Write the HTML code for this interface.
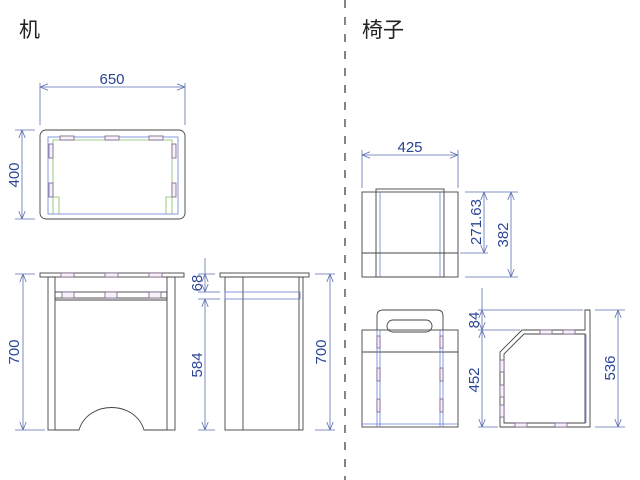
<!DOCTYPE html>
<html><head><meta charset="utf-8"><style>
html,body{margin:0;padding:0;background:#fff;width:640px;height:480px;overflow:hidden}
svg{display:block}
.d{stroke:#5a6fb0;stroke-width:0.8;fill:none}
.o{stroke:#444;stroke-width:0.9;fill:none}
.b{stroke:#6a7fd0;stroke-width:0.8;fill:none}
.g{stroke:#7fbf5f;stroke-width:0.8;fill:none}
.p{stroke:#7a5a8a;stroke-width:0.8;fill:#f6f2f8}
text.n{font-family:"Liberation Sans",sans-serif;font-size:15px;fill:#2a4594}
text.t{font-family:"Liberation Sans","Noto Sans CJK JP",sans-serif;font-size:21px;fill:#222}
</style></head><body>
<svg width="640" height="480" viewBox="0 0 640 480">
<defs>
<marker id="a" viewBox="0 0 10 10" refX="10" refY="5" markerWidth="8" markerHeight="8" orient="auto-start-reverse" markerUnits="userSpaceOnUse">
<path d="M0,1 L10,5 L0,9" fill="none" stroke="#5a6fb0" stroke-width="1"/></marker>
</defs>
<line x1="345" y1="0" x2="345" y2="480" stroke="#333" stroke-width="1.2" stroke-dasharray="8,9"/>
<text class="t" x="19" y="37">机</text>
<text class="t" x="362" y="37">椅子</text>

<!-- desk top view -->
<line class="d" x1="40" y1="83" x2="40" y2="125"/><line class="d" x1="185" y1="83" x2="185" y2="125"/>
<line class="d" x1="40" y1="87" x2="185" y2="87" marker-start="url(#a)" marker-end="url(#a)"/>
<text class="n" x="112" y="84" text-anchor="middle">650</text>
<line class="d" x1="15" y1="130" x2="35" y2="130"/><line class="d" x1="15" y1="219" x2="35" y2="219"/>
<line class="d" x1="22" y1="130" x2="22" y2="219" marker-start="url(#a)" marker-end="url(#a)"/>
<text class="n" transform="translate(19,175) rotate(-90)" text-anchor="middle">400</text>
<rect class="o" x="40" y="130" width="145" height="89" rx="6"/>
<rect class="b" x="48" y="137" width="130" height="77"/>
<path class="g" d="M53,214 V140 H172 V214 M53,197 H59 V214 M172,197 H166 V214"/>
<rect class="p" x="60" y="136" width="14" height="4"/><rect class="p" x="105" y="136" width="14" height="4"/><rect class="p" x="149" y="136" width="14" height="4"/>
<rect class="p" x="49" y="144" width="4" height="14"/><rect class="p" x="49" y="183" width="4" height="14"/>
<rect class="p" x="172" y="144" width="4" height="14"/><rect class="p" x="172" y="183" width="4" height="14"/>

<!-- desk front view -->
<line class="d" x1="15" y1="274" x2="35" y2="274"/><line class="d" x1="15" y1="430" x2="45" y2="430"/>
<line class="d" x1="23" y1="274" x2="23" y2="430" marker-start="url(#a)" marker-end="url(#a)"/>
<text class="n" transform="translate(19,352) rotate(-90)" text-anchor="middle">700</text>
<rect class="o" x="40" y="273" width="144" height="4"/>
<rect class="p" x="61" y="273" width="13" height="4"/><rect class="p" x="105" y="273" width="13" height="4"/><rect class="p" x="149" y="273" width="13" height="4"/>
<rect class="o" x="48" y="277" width="7" height="153"/>
<rect class="o" x="167" y="277" width="8" height="153"/>
<rect class="o" x="55" y="292" width="112" height="6"/>
<rect class="p" x="62" y="292" width="12" height="6"/><rect class="p" x="105" y="292" width="12" height="6"/><rect class="p" x="149" y="292" width="12" height="6"/>
<line class="o" x1="55" y1="300" x2="167" y2="300"/>
<path class="o" d="M55,430 H79 C88,400 135,400 144,430 H167"/>

<!-- desk side view -->
<line class="d" x1="205" y1="258" x2="205" y2="274" /><line class="d" x1="198" y1="274" x2="215" y2="274"/>
<line class="d" x1="205" y1="274" x2="205" y2="292" marker-start="url(#a)" marker-end="url(#a)"/>
<line class="d" x1="198" y1="292" x2="220" y2="292"/><line class="d" x1="198" y1="299" x2="220" y2="299"/>
<line class="d" x1="205" y1="299" x2="205" y2="430" marker-start="url(#a)" marker-end="url(#a)"/>
<line class="d" x1="198" y1="430" x2="215" y2="430"/>
<text class="n" transform="translate(202,283) rotate(-90)" text-anchor="middle">68</text>
<text class="n" transform="translate(202,365) rotate(-90)" text-anchor="middle">584</text>
<rect class="o" x="220" y="273" width="89" height="4"/>
<rect class="o" x="225" y="277" width="78" height="153"/>
<line class="o" x1="243" y1="277" x2="243" y2="430"/><line class="o" x1="299" y1="277" x2="299" y2="430"/>
<rect class="b" x="225" y="292" width="75" height="7"/>
<line class="d" x1="315" y1="274" x2="335" y2="274"/><line class="d" x1="315" y1="430" x2="335" y2="430"/>
<line class="d" x1="330" y1="274" x2="330" y2="430" marker-start="url(#a)" marker-end="url(#a)"/>
<text class="n" transform="translate(326,352) rotate(-90)" text-anchor="middle">700</text>

<!-- chair top view -->
<line class="d" x1="362" y1="150" x2="362" y2="188"/><line class="d" x1="458" y1="150" x2="458" y2="188"/>
<line class="d" x1="362" y1="155" x2="458" y2="155" marker-start="url(#a)" marker-end="url(#a)"/>
<text class="n" x="410" y="152" text-anchor="middle">425</text>
<rect class="o" x="362" y="192" width="96" height="85"/>
<rect class="o" x="376" y="189" width="68" height="88"/>
<line class="b" x1="380" y1="192" x2="380" y2="277"/><line class="b" x1="440" y1="192" x2="440" y2="277"/>
<line class="o" x1="362" y1="253" x2="458" y2="253"/>
<line class="d" x1="465" y1="192" x2="518" y2="192"/><line class="d" x1="465" y1="277" x2="518" y2="277"/>
<line class="d" x1="460" y1="253" x2="488" y2="253"/>
<line class="d" x1="484" y1="192" x2="484" y2="253" marker-start="url(#a)" marker-end="url(#a)"/>
<line class="d" x1="511" y1="192" x2="511" y2="277" marker-start="url(#a)" marker-end="url(#a)"/>
<text class="n" transform="translate(481,222) rotate(-90)" text-anchor="middle">271.63</text>
<text class="n" transform="translate(508,235) rotate(-90)" text-anchor="middle">382</text>

<!-- chair front view -->
<path class="o" d="M377,330 V316 Q377,310 383,310 H437 Q443,310 443,316 V330"/>
<rect class="o" x="387" y="320" width="45" height="12" rx="6"/>
<rect class="o" x="362" y="330" width="96" height="97"/>
<line class="o" x1="362" y1="352" x2="458" y2="352"/>
<line class="b" x1="377" y1="330" x2="377" y2="427"/><line class="b" x1="380" y1="330" x2="380" y2="427"/>
<line class="b" x1="440" y1="330" x2="440" y2="427"/><line class="b" x1="443" y1="330" x2="443" y2="427"/>
<line class="b" x1="362" y1="424" x2="458" y2="424"/>
<rect class="p" x="377" y="336" width="3" height="12"/><rect class="p" x="377" y="368" width="3" height="13"/><rect class="p" x="377" y="399" width="3" height="13"/>
<rect class="p" x="440" y="336" width="3" height="12"/><rect class="p" x="440" y="368" width="3" height="13"/><rect class="p" x="440" y="399" width="3" height="13"/>

<!-- chair side view -->
<line class="d" x1="482" y1="288" x2="482" y2="310"/>
<line class="d" x1="478" y1="310" x2="583" y2="310"/><line class="d" x1="478" y1="330" x2="520" y2="330"/>
<line class="d" x1="478" y1="427" x2="498" y2="427"/>
<line class="d" x1="482" y1="310" x2="482" y2="330" marker-start="url(#a)" marker-end="url(#a)"/>
<line class="d" x1="482" y1="330" x2="482" y2="427" marker-start="url(#a)" marker-end="url(#a)"/>
<text class="n" transform="translate(479,320) rotate(-90)" text-anchor="middle">84</text>
<text class="n" transform="translate(479,380) rotate(-90)" text-anchor="middle">452</text>
<path class="o" d="M500,427 V352 L522,330 H585 V310 H590 V427 Z"/>
<path class="o" d="M504,423 V354 L524,334 H585 V423 Z"/>
<line class="b" x1="586" y1="334" x2="586" y2="423"/>
<rect class="p" x="540" y="330" width="12" height="4"/><rect class="p" x="563" y="330" width="12" height="4"/>
<rect class="p" x="500" y="360" width="4" height="12"/><rect class="p" x="500" y="385" width="4" height="12"/><rect class="p" x="500" y="405" width="4" height="12"/>
<rect class="p" x="515" y="423" width="12" height="4"/><rect class="p" x="555" y="423" width="12" height="4"/>
<line class="d" x1="595" y1="310" x2="625" y2="310"/><line class="d" x1="595" y1="427" x2="625" y2="427"/>
<line class="d" x1="618" y1="310" x2="618" y2="427" marker-start="url(#a)" marker-end="url(#a)"/>
<text class="n" transform="translate(615,368) rotate(-90)" text-anchor="middle">536</text>
</svg>
</body></html>
